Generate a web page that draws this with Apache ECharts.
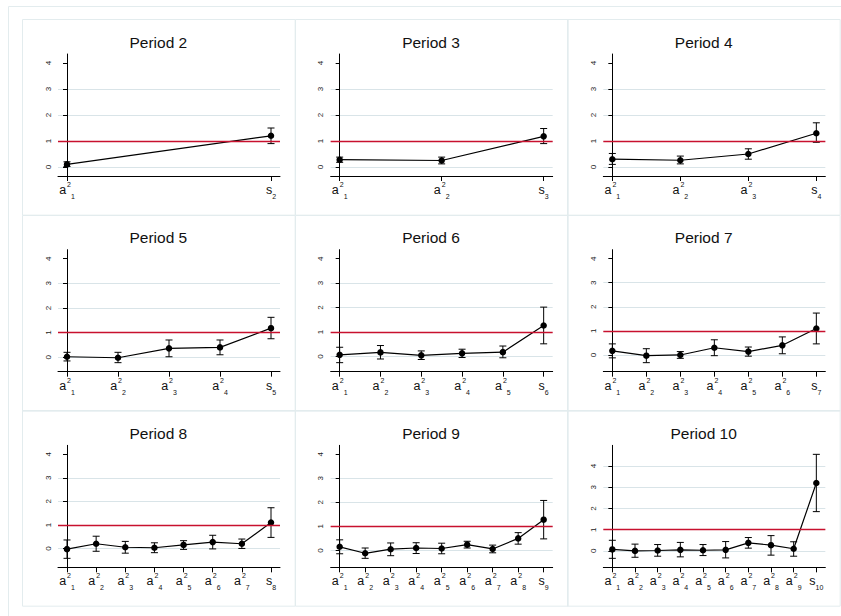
<!DOCTYPE html>
<html><head><meta charset="utf-8">
<script src="https://cdn.jsdelivr.net/npm/echarts@6/dist/echarts.min.js"></script>
<style>html,body{margin:0;padding:0;background:#fff}#c{width:841px;height:616px}</style>
</head><body><div id="c"></div>
<script>
// ---- data (estimate, lower CI, upper CI) per period ----
const periods = [2, 3, 4, 5, 6, 7, 8, 9, 10];
const yTicks = [0, 1, 2, 3, 4];
const refLine = 1;

const est2 = [0.10, 1.20];
const lo2  = [0.02, 0.90];
const hi2  = [0.20, 1.50];

const est3 = [0.28, 0.25, 1.18];
const lo3  = [0.18, 0.12, 0.90];
const hi3  = [0.38, 0.38, 1.48];

const est4 = [0.30, 0.26, 0.50, 1.30];
const lo4  = [0.10, 0.12, 0.30, 0.95];
const hi4  = [0.52, 0.42, 0.70, 1.70];

const est5 = [0.02, -0.02, 0.36, 0.40, 1.18];
const lo5  = [-0.15, -0.22, 0.02, 0.10, 0.75];
const hi5  = [0.20, 0.20, 0.70, 0.70, 1.62];

const est6 = [0.07, 0.17, 0.05, 0.13, 0.18, 1.27];
const lo6  = [-0.25, -0.10, -0.12, -0.04, -0.05, 0.52];
const hi6  = [0.38, 0.45, 0.23, 0.30, 0.43, 2.02];

const est7 = [0.17, -0.03, 0.00, 0.30, 0.14, 0.40, 1.10];
const lo7  = [-0.12, -0.32, -0.14, -0.03, -0.05, 0.05, 0.46];
const hi7  = [0.46, 0.26, 0.14, 0.63, 0.33, 0.75, 1.74];

const est8 = [-0.03, 0.20, 0.05, 0.03, 0.15, 0.27, 0.20, 1.10];
const lo8  = [-0.42, -0.12, -0.20, -0.18, -0.04, -0.02, 0.00, 0.47];
const hi8  = [0.36, 0.52, 0.30, 0.24, 0.33, 0.56, 0.40, 1.73];

const est9 = [0.15, -0.12, 0.05, 0.10, 0.08, 0.24, 0.06, 0.50, 1.28];
const lo9  = [-0.14, -0.33, -0.22, -0.13, -0.14, 0.10, -0.10, 0.26, 0.48];
const hi9  = [0.44, 0.10, 0.31, 0.32, 0.30, 0.38, 0.22, 0.74, 2.08];

const est10 = [0.07, 0.00, 0.02, 0.05, 0.03, 0.05, 0.38, 0.27, 0.10, 3.20];
const lo10  = [-0.35, -0.30, -0.25, -0.28, -0.22, -0.33, 0.13, -0.20, -0.25, 1.85];
const hi10  = [0.50, 0.32, 0.30, 0.40, 0.30, 0.44, 0.63, 0.72, 0.43, 4.55];

const ests = [est2, est3, est4, est5, est6, est7, est8, est9, est10];
const los  = [lo2, lo3, lo4, lo5, lo6, lo7, lo8, lo9, lo10];
const his  = [hi2, hi3, hi4, hi5, hi6, hi7, hi8, hi9, hi10];

// tick labels: a^2_1 ... a^2_{k-1}, s_k
function tickLabels(k) {
  const out = [];
  for (let i = 1; i < k; i++) out.push('{b|a}{sup|2}{sub|' + i + '}');
  out.push('{b|s}{sub|' + k + '}');
  return out;
}

// ---- layout ----
const FONT = '"Liberation Sans", Arial, Helvetica, sans-serif';
const X0 = 22, Y0 = 19, PW = (840 - 22) / 3, PH = (606 - 19) / 3;
const GL = 36, GT = 35, GW = 222, GH = 122, PAD = 9;
const gridColor = '#d9e4e8';
const frameColor = '#e3ecee';

const grids = [], xAxes = [], yAxes = [], series = [];
const graphics = [{
  type: 'rect', silent: true, z: -10,
  shape: { x: 8.5, y: 6.5, width: 900, height: 700 },
  style: { fill: 'none', stroke: frameColor, lineWidth: 1 }
}];

const rich = {
  b:   { fontSize: 12.5, fontFamily: FONT, color: '#111', lineHeight: 20, verticalAlign: 'middle' },
  sup: { fontSize: 7,  fontFamily: FONT, color: '#111', lineHeight: 20, verticalAlign: 'top', padding: [1, 0, 0, 1] },
  sub: { fontSize: 7,  fontFamily: FONT, color: '#111', lineHeight: 20, verticalAlign: 'bottom', padding: [0, 0, 0, 0] }
};

periods.forEach((p, k) => {
  const col = k % 3, row = Math.floor(k / 3);
  const px = X0 + col * PW, py = Y0 + row * PH;
  graphics.push({
    type: 'rect', silent: true, z: -9,
    shape: { x: Math.round(px) + 0.5, y: Math.round(py) + 0.5, width: PW, height: PH },
    style: { fill: 'none', stroke: frameColor, lineWidth: 1 }
  });
  graphics.push({
    type: 'text', silent: true, z: 10,
    x: px + PW / 2, y: py + 23,
    style: {
      text: 'Period ' + p, fill: '#111',
      font: '15.5px ' + FONT,
      align: 'center', verticalAlign: 'middle',
      textAlign: 'center', textVerticalAlign: 'middle'
    }
  });

  const est = ests[k], lo = los[k], hi = his[k];
  const n = est.length;
  const labels = tickLabels(p);
  const idx = est.map((_, i) => i);
  const yMin0 = Math.min(0, ...lo), yMax0 = Math.max(4, ...hi);
  const yPad = PAD * (yMax0 - yMin0) / (GH - 2 * PAD);
  const xPad = PAD * (n - 1) / (GW - 2 * PAD);
  // no grid line drawn where a tick sits at the top of the data range
  const splitColors = yTicks.map(t => (t >= yMax0 ? 'rgba(255,255,255,0)' : gridColor));

  grids.push({ left: px + GL, top: py + GT, width: GW, height: GH });

  xAxes.push({
    gridIndex: k, type: 'value', position: 'bottom',
    min: -xPad, max: n - 1 + xPad,
    axisLine: { show: true, onZero: false, lineStyle: { color: '#000', width: 1 } },
    axisTick: { show: true, customValues: idx, length: 5, lineStyle: { color: '#000', width: 1 } },
    axisLabel: { customValues: idx, margin: 4, formatter: v => labels[Math.round(v)], rich: rich },
    splitLine: { show: false }
  });

  yAxes.push({
    gridIndex: k, type: 'value', position: 'left',
    min: yMin0 - yPad, max: yMax0 + yPad,
    axisLine: { show: true, lineStyle: { color: '#000', width: 1 } },
    axisTick: { show: true, customValues: yTicks, length: 4, lineStyle: { color: '#000', width: 1 } },
    axisLabel: { customValues: yTicks, rotate: 90, margin: 6, fontSize: 8, fontFamily: FONT, color: '#222' },
    splitLine: { show: true, lineStyle: { color: splitColors, width: 1 } }
  });

  series.push({
    type: 'custom', xAxisIndex: k, yAxisIndex: k, z: 2,
    data: idx.map(i => [i, lo[i], hi[i]]),
    encode: { x: 0, y: [1, 2] },
    renderItem: (params, api) => {
      const x = api.value(0);
      const a = api.coord([x, api.value(1)]);
      const b = api.coord([x, api.value(2)]);
      const cw = 3.5;
      const st = { stroke: '#000', lineWidth: 1 };
      return {
        type: 'group', children: [
          { type: 'line', shape: { x1: a[0], y1: a[1], x2: b[0], y2: b[1] }, style: st },
          { type: 'line', shape: { x1: a[0] - cw, y1: a[1], x2: a[0] + cw, y2: a[1] }, style: st },
          { type: 'line', shape: { x1: b[0] - cw, y1: b[1], x2: b[0] + cw, y2: b[1] }, style: st }
        ]
      };
    },
    markLine: {
      silent: true, symbol: 'none', label: { show: false }, animation: false,
      lineStyle: { color: '#c8102e', width: 1.3, type: 'solid' },
      data: [{ yAxis: refLine }]
    }
  });

  series.push({
    type: 'line', xAxisIndex: k, yAxisIndex: k, z: 3,
    data: idx.map(i => [i, est[i]]),
    symbol: 'circle', symbolSize: 6.5,
    itemStyle: { color: '#000' },
    lineStyle: { color: '#000', width: 1.2 }
  });
});

const chart = echarts.init(document.getElementById('c'), null, { renderer: 'svg' });
chart.setOption({
  animation: false,
  backgroundColor: '#fff',
  grid: grids,
  xAxis: xAxes,
  yAxis: yAxes,
  series: series,
  graphic: graphics
});
</script>
</body></html>
